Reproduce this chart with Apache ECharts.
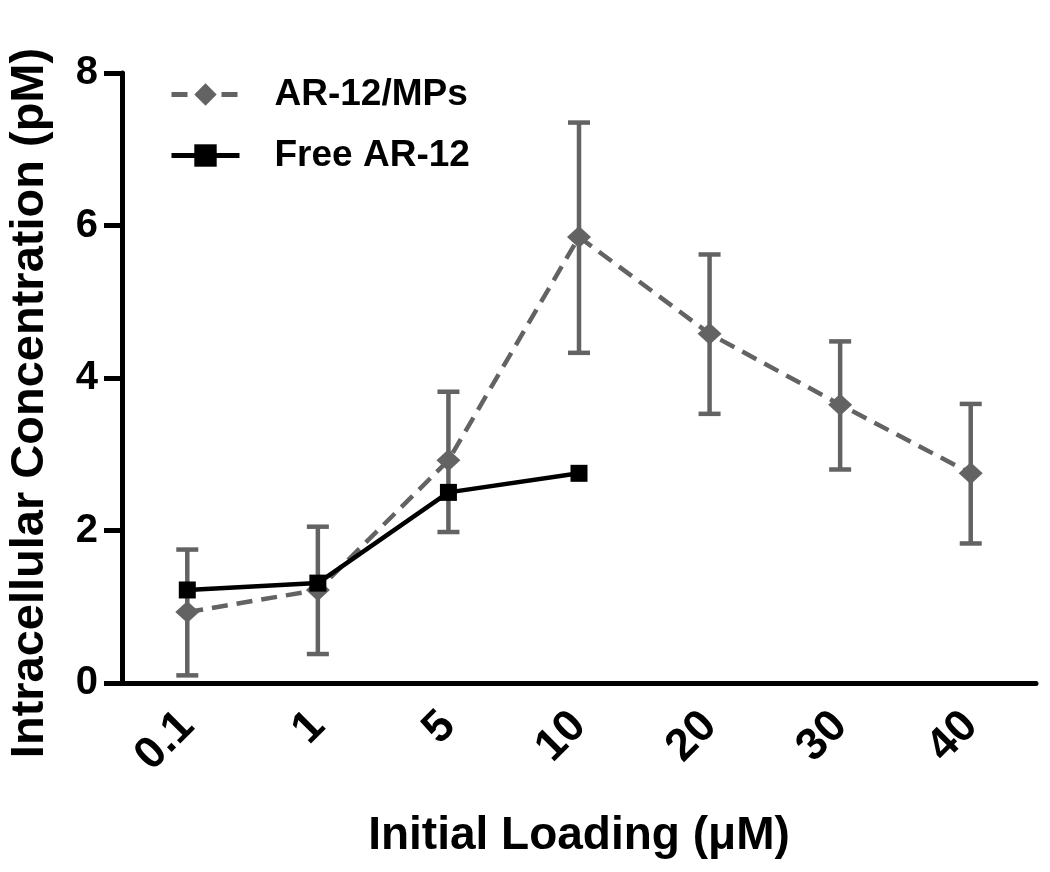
<!DOCTYPE html>
<html>
<head>
<meta charset="utf-8">
<script src="https://cdn.jsdelivr.net/npm/echarts@6/dist/echarts.min.js"></script>
<style>
  html, body { margin: 0; padding: 0; background: #fff; }
  #chart { width: 1050px; height: 872px; }
</style>
</head>
<body>
<div id="chart"></div>
<script>
var loading = ['0.1', '1', '5', '10', '20', '30', '40'];

// AR-12/MPs mean and error bar ends (low / high)
var mpsMean = [0.93, 1.22, 2.92, 5.85, 4.58, 3.65, 2.75];
var mpsLow  = [0.10, 0.38, 1.98, 4.33, 3.53, 2.80, 1.83];
var mpsHigh = [1.75, 2.05, 3.82, 7.35, 5.62, 4.48, 3.66];

// Free AR-12 (only the first four loadings)
var freeMean = [1.22, 1.31, 2.50, 2.75];

var grayCol = '#636363';
var fontFam = '"Liberation Sans", Arial, sans-serif';

var errData = loading.map(function (c, i) { return [i, mpsLow[i], mpsHigh[i]]; });

var chart = echarts.init(document.getElementById('chart'));
chart.setOption({
    backgroundColor: '#ffffff',
    animation: false,
    textStyle: { fontFamily: fontFam },
    grid: { left: 122, right: 14, top: 73, bottom: 189, outerBoundsMode: 'none' },
    legend: {
        orient: 'vertical',
        left: 164,
        top: 71,
        itemWidth: 68,
        itemHeight: 28,
        itemGap: 24,
        data: ['AR-12/MPs', 'Free AR-12'],
        lineStyle: { width: 5 },
        textStyle: { fontSize: 37, fontWeight: 'bold', color: '#000', padding: [0, 0, 0, 30], fontFamily: fontFam }
    },
    xAxis: {
        type: 'category',
        data: loading,
        boundaryGap: true,
        name: 'Initial Loading (\u03bcM)',
        nameLocation: 'middle',
        nameGap: 130,
        nameTextStyle: { fontSize: 46, fontWeight: 'bold', color: '#000', fontFamily: fontFam },
        axisLine: { lineStyle: { color: '#000', width: 5 } },
        axisTick: { alignWithLabel: true, length: 18, lineStyle: { width: 5, color: '#000' } },
        axisLabel: { rotate: 45, margin: 36, fontSize: 45, fontWeight: 'bold', color: '#000', fontFamily: fontFam },
        splitLine: { show: false }
    },
    yAxis: {
        type: 'value',
        min: 0,
        max: 8,
        interval: 2,
        name: 'Intracellular Concentration (pM)',
        nameLocation: 'middle',
        nameRotate: 90,
        nameGap: 68,
        nameTextStyle: { fontSize: 47, fontWeight: 'bold', color: '#000', fontFamily: fontFam, padding: [0, 50, 0, 0] },
        axisLine: { show: true, lineStyle: { color: '#000', width: 5 } },
        axisTick: { show: true, length: 18, lineStyle: { width: 5, color: '#000' } },
        axisLabel: { margin: 24, fontSize: 40, fontWeight: 'bold', color: '#000', fontFamily: fontFam },
        splitLine: { show: false }
    },
    series: [
        {
            name: 'AR-12/MPs',
            type: 'line',
            data: mpsMean,
            symbol: 'diamond',
            symbolSize: [24, 22],
            z: 3,
            lineStyle: { color: grayCol, width: 4.5, type: [16, 9] },
            itemStyle: { color: grayCol }
        },
        {
            name: 'Free AR-12',
            type: 'line',
            data: freeMean,
            symbol: 'rect',
            symbolSize: 17,
            z: 4,
            lineStyle: { color: '#000', width: 4.5 },
            itemStyle: { color: '#000' }
        },
        {
            name: 'err',
            type: 'custom',
            z: 2,
            data: errData,
            renderItem: function (params, api) {
                var x = api.value(0);
                var lo = api.coord([x, api.value(1)]);
                var hi = api.coord([x, api.value(2)]);
                var hw = 11;
                var st = { stroke: grayCol, lineWidth: 4.5 };
                return {
                    type: 'group',
                    children: [
                        { type: 'line', shape: { x1: lo[0], y1: lo[1], x2: hi[0], y2: hi[1] }, style: st },
                        { type: 'line', shape: { x1: hi[0] - hw, y1: hi[1], x2: hi[0] + hw, y2: hi[1] }, style: st },
                        { type: 'line', shape: { x1: lo[0] - hw, y1: lo[1], x2: lo[0] + hw, y2: lo[1] }, style: st }
                    ]
                };
            }
        }
    ]
});
</script>
</body>
</html>
